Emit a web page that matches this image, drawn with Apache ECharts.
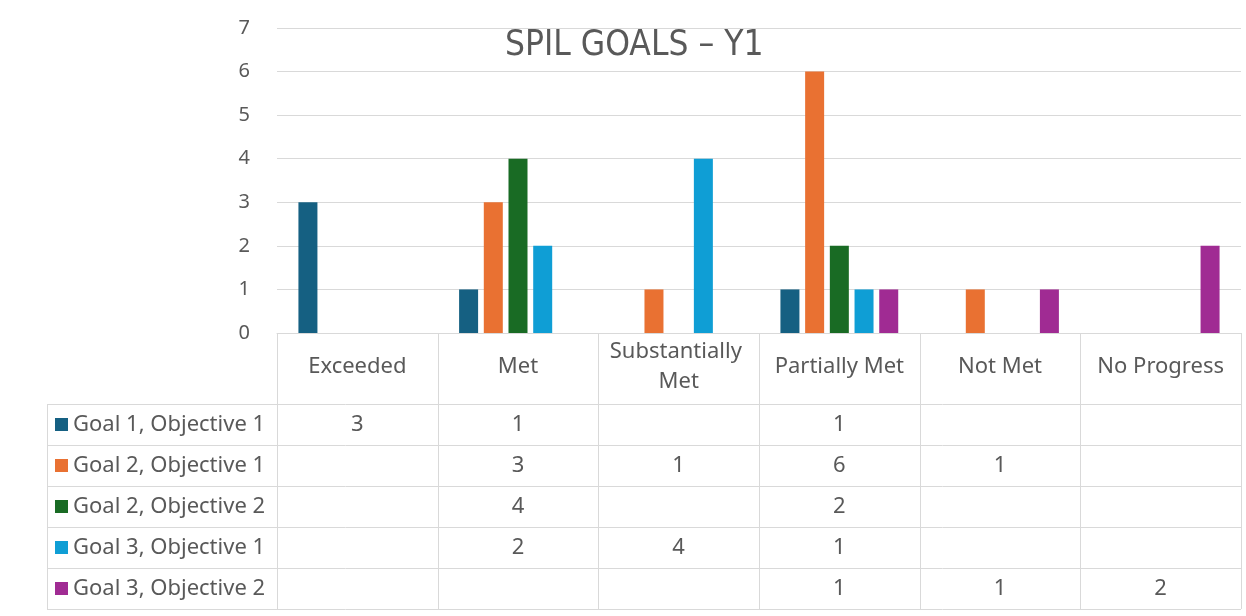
<!DOCTYPE html>
<html>
<head>
<meta charset="utf-8">
<script src="https://cdn.jsdelivr.net/npm/echarts@6/dist/echarts.min.js"></script>
<style>
  html, body { margin: 0; padding: 0; background: #fff; }
  #main { width: 1246px; height: 616px; }
</style>
</head>
<body>
<div id="main"></div>
<script type="text/javascript">
    // categories and series data
    var categories = ['Exceeded', 'Met', 'Substantially Met', 'Partially Met', 'Not Met', 'No Progress'];
    var seriesNames = ['Goal 1, Objective 1', 'Goal 2, Objective 1', 'Goal 2, Objective 2', 'Goal 3, Objective 1', 'Goal 3, Objective 2'];
    var goal1Obj1 = [3, 1, null, 1, null, null];
    var goal2Obj1 = [null, 3, 1, 6, 1, null];
    var goal2Obj2 = [null, 4, null, 2, null, null];
    var goal3Obj1 = [null, 2, 4, 1, null, null];
    var goal3Obj2 = [null, null, null, 1, 1, 2];
    var yTicks = [0, 1, 2, 3, 4, 5, 6, 7];

    var seriesData = [goal1Obj1, goal2Obj1, goal2Obj2, goal3Obj1, goal3Obj2];
    var colors = ['#156082', '#e97132', '#196b24', '#0f9ed5', '#a02b93'];
    var textColor = '#595959';
    var lineColor = '#d9d9d9';
    var font = '"Noto Sans", sans-serif';
    var tableFontSize = 22;

    var myChart = echarts.init(document.getElementById('main'));

    var option = {
        animation: false,
        color: colors,
        title: {
            text: 'SPIL GOALS – Y1',
            left: 500,
            top: 23,
            textStyle: {
                fontFamily: '"Liberation Sans Narrow", "DejaVu Sans Condensed", sans-serif',
                fontWeight: 'normal',
                fontSize: 35,
                color: textColor
            }
        },
        grid: {
            left: 277,
            right: 5,
            top: 28,
            bottom: 283
        },
        xAxis: {
            type: 'category',
            data: categories,
            axisLine: { lineStyle: { color: lineColor, width: 1 } },
            axisTick: { show: false },
            axisLabel: {
                interval: 0,
                margin: 34,
                verticalAlign: 'middle',
                width: 150,
                overflow: 'break',
                lineHeight: 30,
                fontFamily: font,
                fontSize: tableFontSize,
                color: textColor
            }
        },
        yAxis: {
            type: 'value',
            min: yTicks[0],
            max: yTicks[yTicks.length - 1],
            interval: 1,
            axisLine: { show: false },
            axisTick: { show: false },
            splitLine: { lineStyle: { color: lineColor, width: 1 } },
            axisLabel: {
                margin: 27,
                fontFamily: font,
                fontSize: 20,
                color: textColor
            }
        },
        series: seriesNames.map(function (name, i) {
            return {
                name: name,
                type: 'bar',
                data: seriesData[i],
                barWidth: 19,
                barGap: '30%'
            };
        })
    };
    myChart.setOption(option);

    // data table below the axis, placed from the axis scale
    function buildTable() {
        var y0 = Math.round(myChart.convertToPixel({ yAxisIndex: 0 }, 0));
        var xs = categories.map(function (c, i) {
            return myChart.convertToPixel({ xAxisIndex: 0 }, i);
        });
        var pitch = xs[1] - xs[0];
        var edges = xs.map(function (x) { return x - pitch / 2; });
        edges.push(xs[xs.length - 1] + pitch / 2);

        var headerH = 71, rowH = 41, tableLeft = 47;
        var tTop = y0 + headerH;
        var tBottom = tTop + rowH * seriesNames.length;
        var tRight = edges[edges.length - 1];
        var elems = [];
        var line = function (x1, y1, x2, y2) {
            elems.push({
                type: 'line',
                shape: { x1: x1, y1: y1, x2: x2, y2: y2 },
                style: { stroke: lineColor, lineWidth: 1 },
                silent: true
            });
        };
        edges.forEach(function (x) {
            var px = Math.round(x) + 0.5;
            line(px, y0, px, tBottom);
        });
        line(tableLeft + 0.5, tTop, tableLeft + 0.5, tBottom);
        for (var r = 0; r <= seriesNames.length; r++) {
            var py = tTop + r * rowH + 0.5;
            line(tableLeft, py, tRight, py);
        }
        seriesNames.forEach(function (name, i) {
            var cy = tTop + rowH * i + rowH / 2;
            elems.push({
                type: 'rect',
                shape: { x: tableLeft + 8, y: cy - 6.5, width: 13, height: 13 },
                style: { fill: colors[i] },
                silent: true
            });
            elems.push({
                type: 'text',
                x: tableLeft + 26,
                y: cy,
                style: {
                    text: name,
                    fontFamily: font,
                    fontSize: tableFontSize,
                    fill: textColor,
                    verticalAlign: 'middle',
                    align: 'left'
                },
                silent: true
            });
            seriesData[i].forEach(function (v, j) {
                if (v === null) return;
                elems.push({
                    type: 'text',
                    x: xs[j],
                    y: cy,
                    style: {
                        text: String(v),
                        fontFamily: font,
                        fontSize: tableFontSize,
                        fill: textColor,
                        align: 'center',
                        verticalAlign: 'middle'
                    },
                    silent: true
                });
            });
        });
        myChart.setOption({ graphic: elems });
    }
    buildTable();
</script>
</body>
</html>
